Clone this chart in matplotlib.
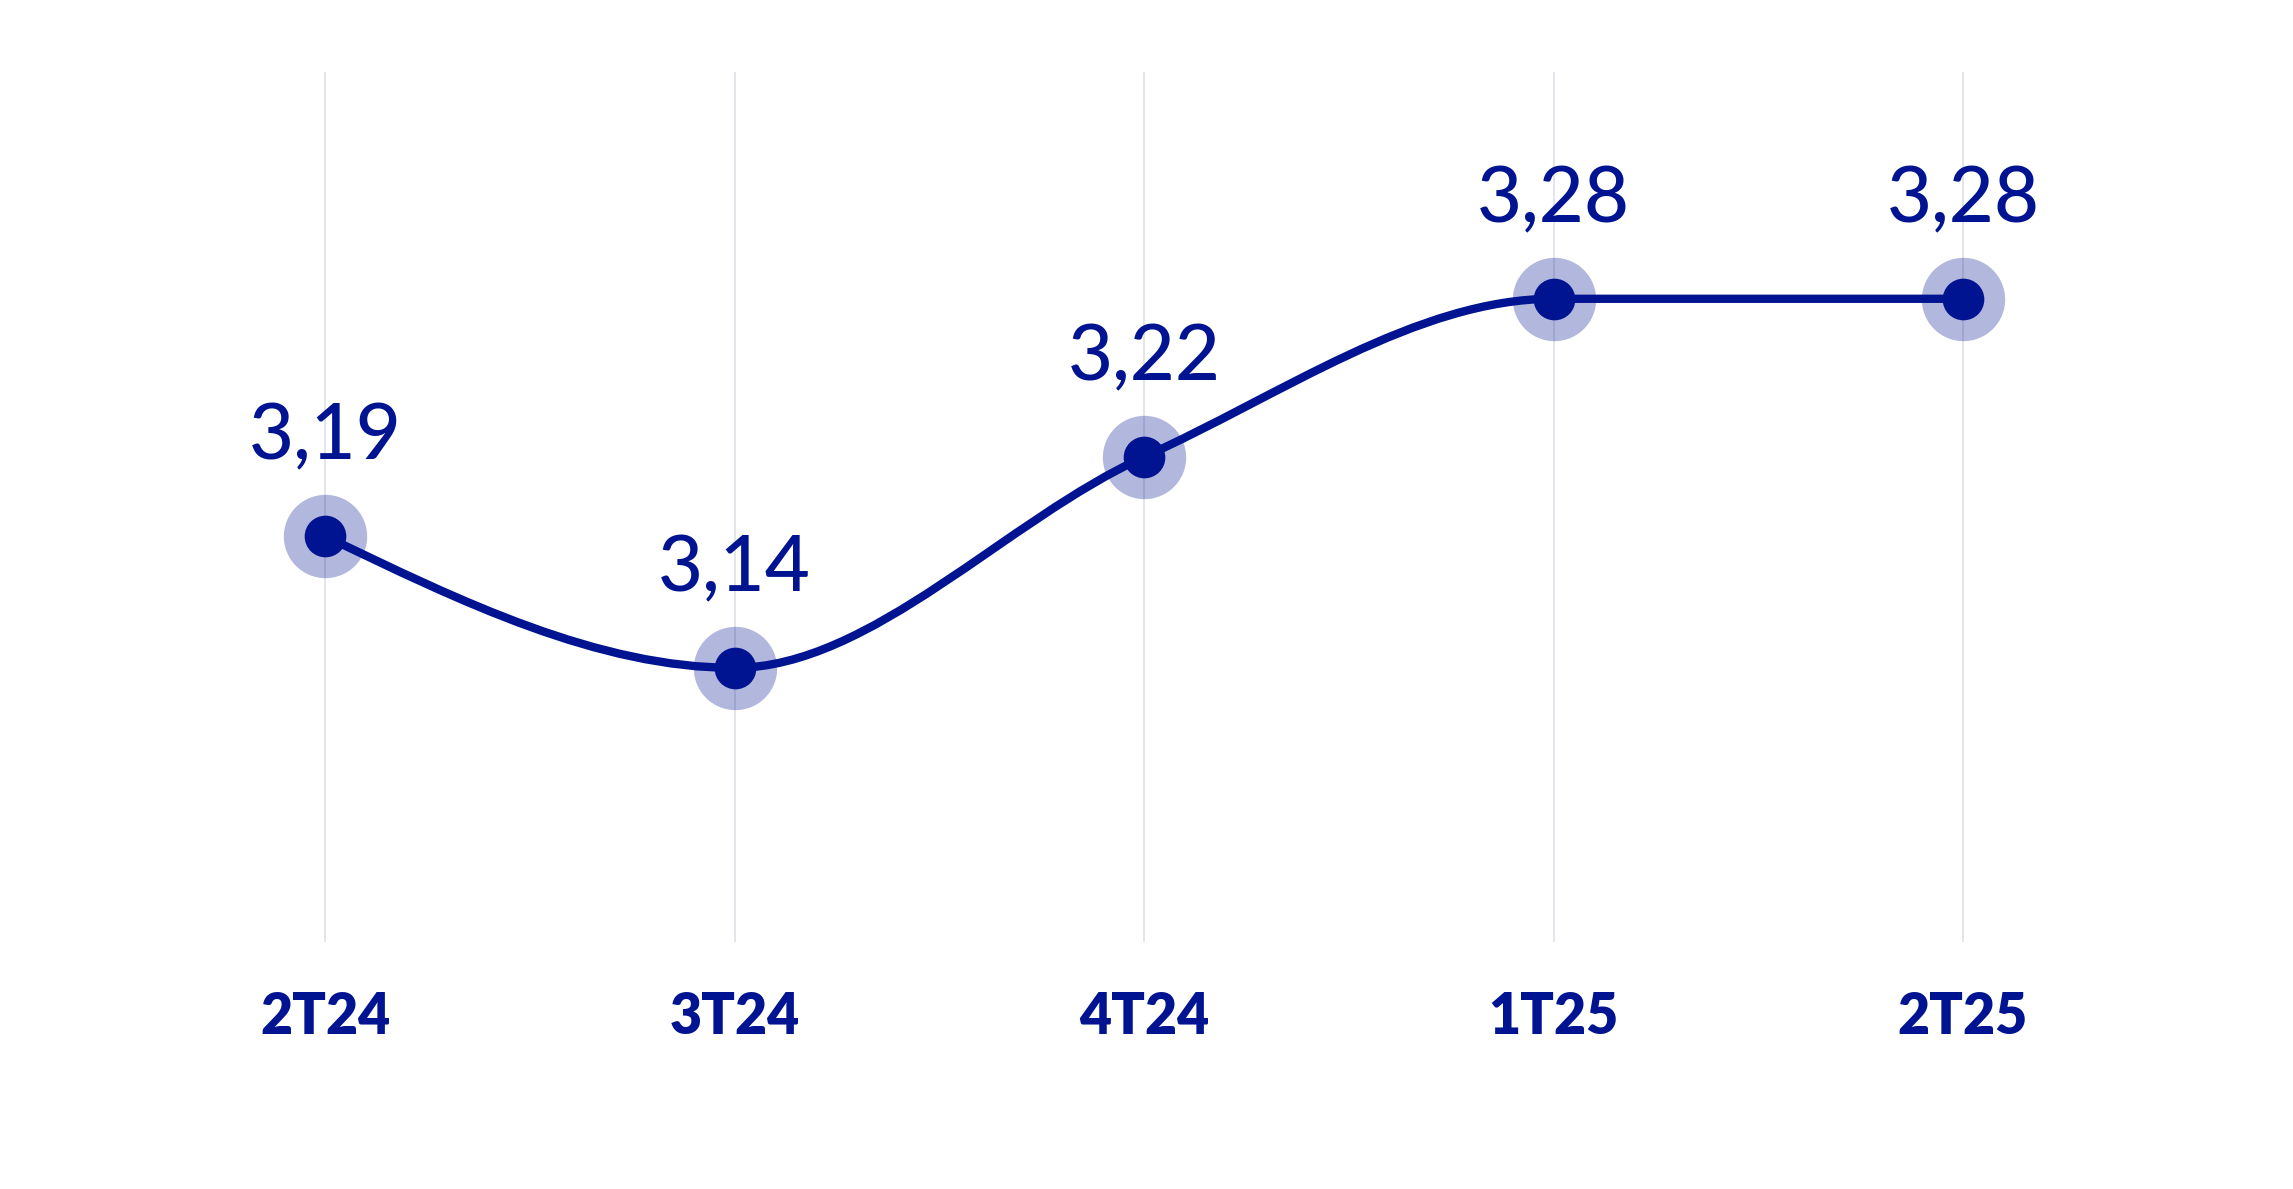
import matplotlib
matplotlib.use('Agg')
import matplotlib.pyplot as plt
from matplotlib.path import Path
from matplotlib.patches import PathPatch

# chart data
quarters = ['2T24', '3T24', '4T24', '1T25', '2T25']
values = [3.19, 3.14, 3.22, 3.28, 3.28]

navy = '#001391'
grid_col = '#E3E5EA'


def monotone_path(xs, ys):
    # smooth monotone curve (like d3 curveMonotoneX), drawn as cubic bezier segments
    n = len(xs)
    h = [xs[i + 1] - xs[i] for i in range(n - 1)]
    s = [(ys[i + 1] - ys[i]) / h[i] for i in range(n - 1)]
    t = [0.0] * n
    for i in range(1, n - 1):
        p = (s[i - 1] * h[i] + s[i] * h[i - 1]) / (h[i - 1] + h[i])
        sign = (1 if s[i - 1] > 0 else -1 if s[i - 1] < 0 else 0) + (1 if s[i] > 0 else -1 if s[i] < 0 else 0)
        t[i] = sign * min(abs(s[i - 1]), abs(s[i]), 0.5 * abs(p))
    t[0] = (3 * s[0] - t[1]) / 2
    t[-1] = (3 * s[-1] - t[-2]) / 2
    verts = [(xs[0], ys[0])]
    codes = [Path.MOVETO]
    for i in range(n - 1):
        d = h[i] / 3
        verts += [(xs[i] + d, ys[i] + t[i] * d), (xs[i + 1] - d, ys[i + 1] - t[i + 1] * d), (xs[i + 1], ys[i + 1])]
        codes += [Path.CURVE4] * 3
    return Path(verts, codes)


fig = plt.figure(figsize=(22.93, 11.89), dpi=100)
ax = fig.add_axes([0, 0.2077, 1, 0.7317])

x = list(range(len(quarters)))
ax.set_xlim(-0.794, 4.806)
ax.set_ylim(3.036, 3.366)

# vertical grid lines
for xi in x:
    ax.axvline(xi, color=grid_col, lw=1.4, zorder=1)

# smooth line
ax.add_patch(PathPatch(monotone_path(x, values), facecolor='none', edgecolor=navy, lw=6, zorder=2, capstyle='round'))

# halo + dot
ax.plot(x, values, 'o', ms=60, color=navy, alpha=0.3, mec='none', zorder=3)
ax.plot(x, values, 'o', ms=30, color=navy, mec='none', zorder=4)

# value labels
for xi, v in zip(x, values):
    ax.annotate(f"{v:.2f}".replace('.', ','), (xi, v), xytext=(0, 55), textcoords='offset points',
                ha='center', va='baseline', fontsize=56, fontweight='medium', color=navy, family='Lato')

ax.set_xticks(x)
ax.set_xticklabels(quarters, fontsize=40, fontweight='heavy', color=navy, family='Lato')
ax.tick_params(axis='x', length=0, pad=35)
ax.set_yticks([])
for sp in ax.spines.values():
    sp.set_visible(False)

fig.savefig('out.png', dpi=100, facecolor='white')
